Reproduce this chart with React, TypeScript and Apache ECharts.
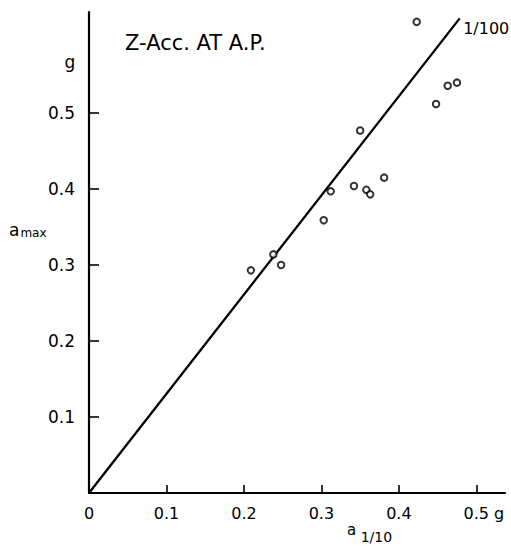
import React, { useEffect, useRef } from "react";
import * as echarts from "echarts";

// a_1/10 (x) and a_max (y) values, in g
const aOneTenth = [0.209, 0.238, 0.248, 0.303, 0.312, 0.342, 0.358, 0.363, 0.381, 0.350, 0.423, 0.448, 0.463, 0.475];
const aMax = [0.293, 0.314, 0.300, 0.359, 0.397, 0.404, 0.399, 0.393, 0.415, 0.477, 0.620, 0.512, 0.536, 0.540];
// reference line "1/100"
const refLineX = [0, 0.4785];
const refLineY = [0, 0.6246];
const refLineLabel = "1/100";
const xTickValues = [0, 0.1, 0.2, 0.3, 0.4, 0.5];
const yTickValues = [0.1, 0.2, 0.3, 0.4, 0.5];
const titleText = "Z-Acc. AT A.P.";

const FONT = '"DejaVu Sans", sans-serif';

export default function App() {
  const ref = useRef<HTMLDivElement>(null);
  useEffect(() => {
    if (!ref.current) return;
    const chart = echarts.init(ref.current, null, { renderer: "svg" });
    const points = aOneTenth.map((x, i) => [x, aMax[i]]);
    const linePts = refLineX.map((x, i) => [x, refLineY[i]]);
    chart.setOption({
      animation: false,
      backgroundColor: "#fff",
      grid: { left: 89, right: 6, top: 12, bottom: 53 },
      xAxis: {
        type: "value",
        min: 0,
        max: 0.537,
        interval: 0.1,
        splitLine: { show: false },
        axisLine: { lineStyle: { color: "#000", width: 2.2 } },
        axisTick: {
          inside: true,
          length: 8,
          customValues: xTickValues.slice(1),
          lineStyle: { color: "#000", width: 1.6 },
        },
        axisLabel: {
          customValues: xTickValues,
          margin: 12,
          color: "#000",
          fontFamily: FONT,
          fontSize: 16,
          formatter: (v: number) =>
            Math.abs(v - 0.5) < 1e-9 ? "{p|0.5 g}" : v === 0 ? "0" : v.toFixed(1),
          rich: { p: { fontFamily: FONT, fontSize: 16, color: "#000", padding: [0, 0, 0, 15] } },
        },
      },
      yAxis: {
        type: "value",
        min: 0,
        max: 0.633,
        interval: 0.1,
        splitLine: { show: false },
        axisLine: { lineStyle: { color: "#000", width: 2.2 } },
        axisTick: {
          inside: true,
          length: 10,
          customValues: yTickValues,
          lineStyle: { color: "#000", width: 1.6 },
        },
        axisLabel: {
          customValues: yTickValues,
          margin: 14,
          color: "#000",
          fontFamily: FONT,
          fontSize: 17,
          formatter: (v: number) => v.toFixed(1),
        },
      },
      series: [
        {
          type: "line",
          data: linePts,
          showSymbol: false,
          symbol: "none",
          lineStyle: { color: "#000", width: 2.3 },
          z: 2,
        },
        {
          type: "scatter",
          data: [{
            value: linePts[linePts.length - 1],
            label: {
              show: true,
              formatter: refLineLabel,
              position: "right",
              offset: [-2, 10],
              color: "#000",
              opacity: 1,
              fontFamily: FONT,
              fontSize: 16,
            },
          }],
          symbol: "circle",
          symbolSize: 1,
          itemStyle: { color: "rgba(0,0,0,0)" },
          z: 3,
        },
        {
          type: "scatter",
          data: points,
          symbol: "circle",
          symbolSize: 6.5,
          itemStyle: { color: "#fff", borderColor: "#000", borderWidth: 2 },
          z: 4,
        },
      ],
      graphic: [
        {
          type: "text",
          x: 125,
          y: 43,
          style: { text: titleText, font: `21px ${FONT}`, fill: "#000", verticalAlign: "middle" },
        },
        {
          type: "text",
          x: 70,
          y: 62,
          style: { text: "g", font: `17px ${FONT}`, fill: "#000", align: "center", verticalAlign: "middle" },
        },
        {
          type: "text",
          x: 9,
          y: 230,
          style: {
            text: "{a|a}{s|max}",
            verticalAlign: "middle",
            rich: {
              a: { fontSize: 17, fontFamily: FONT, color: "#000" },
              s: { fontSize: 12, fontFamily: FONT, color: "#000", padding: [6, 0, 0, 1] },
            },
          },
        },
        {
          type: "text",
          x: 347,
          y: 533,
          style: {
            text: "{a|a}{s| 1/10}",
            verticalAlign: "middle",
            rich: {
              a: { fontSize: 15, fontFamily: FONT, color: "#000", padding: [0, 0, 6, 0] },
              s: { fontSize: 14, fontFamily: FONT, color: "#000", padding: [8, 0, 0, 0] },
            },
          },
        },
      ],
    });
    return () => chart.dispose();
  }, []);
  return (
    <div
      ref={ref}
      style={{ position: "absolute", left: 0, top: 0, width: 511, height: 546, background: "#fff" }}
    />
  );
}
